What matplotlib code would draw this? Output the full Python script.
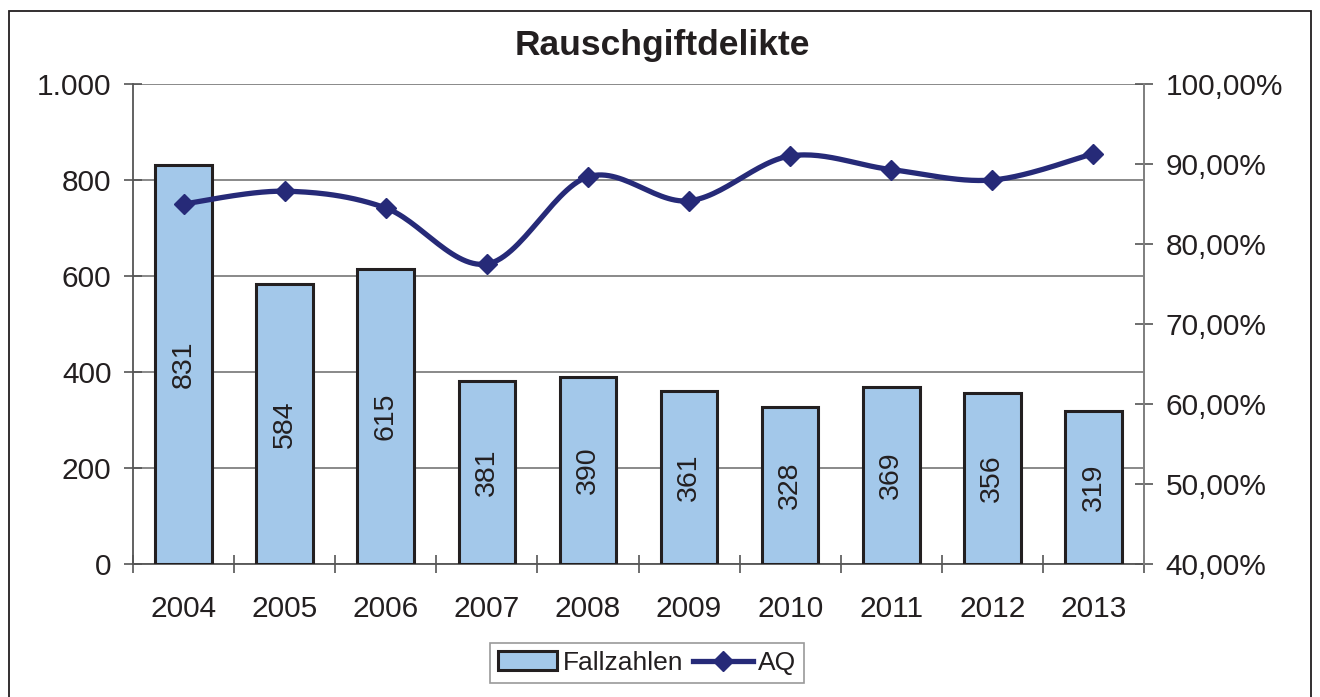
import numpy as np
import matplotlib.pyplot as plt
from matplotlib.patches import Rectangle, Patch
from matplotlib.lines import Line2D
from matplotlib.ticker import FuncFormatter

# Daten
jahre = ['2004', '2005', '2006', '2007', '2008', '2009', '2010', '2011', '2012', '2013']
fallzahlen = [831, 584, 615, 381, 390, 361, 328, 369, 356, 319]
aq = [85.0, 86.6, 84.5, 77.5, 88.4, 85.4, 91.0, 89.3, 88.0, 91.3]

plt.rcParams['font.family'] = ['Liberation Sans', 'DejaVu Sans']
textfarbe = '#231F20'
linienfarbe = '#262A78'
balkenfarbe = '#A3C8EA'


def glaetten(xs, ys, n=30):
    # Catmull-Rom Kurve durch die Punkte (wie Excel "geglättete Linie")
    px = np.concatenate([[xs[0]], xs, [xs[-1]]])
    py = np.concatenate([[ys[0]], ys, [ys[-1]]])
    ox, oy = [], []
    t = np.linspace(0, 1, n)
    for i in range(1, len(px) - 2):
        x0, x1, x2, x3 = px[i - 1], px[i], px[i + 1], px[i + 2]
        y0, y1, y2, y3 = py[i - 1], py[i], py[i + 1], py[i + 2]
        c1x, c1y = x1 + (x2 - x0) / 6, y1 + (y2 - y0) / 6
        c2x, c2y = x2 - (x3 - x1) / 6, y2 - (y3 - y1) / 6
        bx = (1 - t)**3 * x1 + 3 * (1 - t)**2 * t * c1x + 3 * (1 - t) * t**2 * c2x + t**3 * x2
        by = (1 - t)**3 * y1 + 3 * (1 - t)**2 * t * c1y + 3 * (1 - t) * t**2 * c2y + t**3 * y2
        ox.extend(bx)
        oy.extend(by)
    return np.array(ox), np.array(oy)


fig = plt.figure(figsize=(13.2, 6.97), dpi=100)
ax = fig.add_axes([133 / 1320, 1 - 564 / 697, (1144 - 133) / 1320, (564 - 84) / 697])

# Rahmen um das ganze Diagramm
fig.patches.append(Rectangle((9 / 1320, -0.01), (1311 - 9) / 1320, 1 - 11 / 697 + 0.01,
                             transform=fig.transFigure, fill=False, edgecolor='#231F20', lw=1.3))

x = np.arange(len(jahre))
ax.bar(x, fallzahlen, width=0.56, color=balkenfarbe, edgecolor='#231F20', linewidth=2.2, zorder=3)
for xi, v in zip(x, fallzahlen):
    ax.text(xi, v / 2, str(v), rotation=90, ha='center', va='center', fontsize=20.5,
            color=textfarbe, zorder=4)

ax.set_xlim(-0.5, len(jahre) - 0.5)
ax.set_ylim(0, 1000)
ax.set_yticks([0, 200, 400, 600, 800, 1000])
ax.yaxis.set_major_formatter(FuncFormatter(lambda v, p: f'{int(v):,}'.replace(',', '.')))
ax.grid(axis='y', color='#808080', lw=1.3, zorder=0)
ax.set_xticks(x)
ax.set_xticklabels(jahre)
ax.set_xticks(np.arange(-0.5, len(jahre)), minor=True)
ax.tick_params(axis='x', which='major', length=0, pad=22, labelsize=21.5, labelcolor=textfarbe)
ax.tick_params(axis='x', which='minor', direction='inout', length=13, width=1.2, color='#555555')
ax.tick_params(axis='y', direction='inout', length=13, width=1.2, color='#555555', pad=9,
               labelsize=21.5, labelcolor=textfarbe)
ax.spines['top'].set_visible(False)
ax.spines['left'].set_color('#555555')
ax.spines['bottom'].set_color('#555555')
ax.spines['right'].set_color('#808080')
for s in ['left', 'bottom', 'right']:
    ax.spines[s].set_linewidth(1.3)

ax2 = ax.twinx()
ax2.set_ylim(40, 100)
ax2.set_yticks(np.arange(40, 101, 10))
ax2.yaxis.set_major_formatter(FuncFormatter(lambda v, p: f'{v:.2f}%'.replace('.', ',')))
ax2.tick_params(axis='y', direction='inout', length=13, width=1.2, color='#555555', pad=9,
                labelsize=21.5, labelcolor=textfarbe)
for s in ['top', 'left', 'bottom']:
    ax2.spines[s].set_visible(False)
ax2.spines['right'].set_color('#808080')
ax2.spines['right'].set_linewidth(1.3)

sx, sy = glaetten(x.astype(float), np.array(aq))
ax2.plot(sx, sy, color=linienfarbe, lw=3.8, solid_capstyle='round', zorder=5)
ax2.plot(x, aq, linestyle='none', marker='D', markersize=10, color=linienfarbe, zorder=6)

fig.text(662 / 1320, 1 - 45 / 697, 'Rauschgiftdelikte', ha='center', va='center',
         fontsize=25.5, fontweight='bold', color=textfarbe)

# Legende
handles = [Patch(facecolor=balkenfarbe, edgecolor='#231F20', linewidth=2.2, label='Fallzahlen'),
           Line2D([0], [0], color=linienfarbe, lw=3.8, marker='D', markersize=10, label='AQ')]
leg = fig.legend(handles=handles, loc='center', bbox_to_anchor=(647 / 1320, 1 - 663 / 697), ncol=2,
                 fontsize=19, frameon=True, fancybox=False, edgecolor='#808080', handlelength=2.25,
                 handleheight=0.75, columnspacing=0.4, handletextpad=0.2, borderpad=0.3,
                 borderaxespad=0, labelcolor=textfarbe)
leg.get_frame().set_linewidth(1.2)

fig.savefig('out.png', dpi=100)
